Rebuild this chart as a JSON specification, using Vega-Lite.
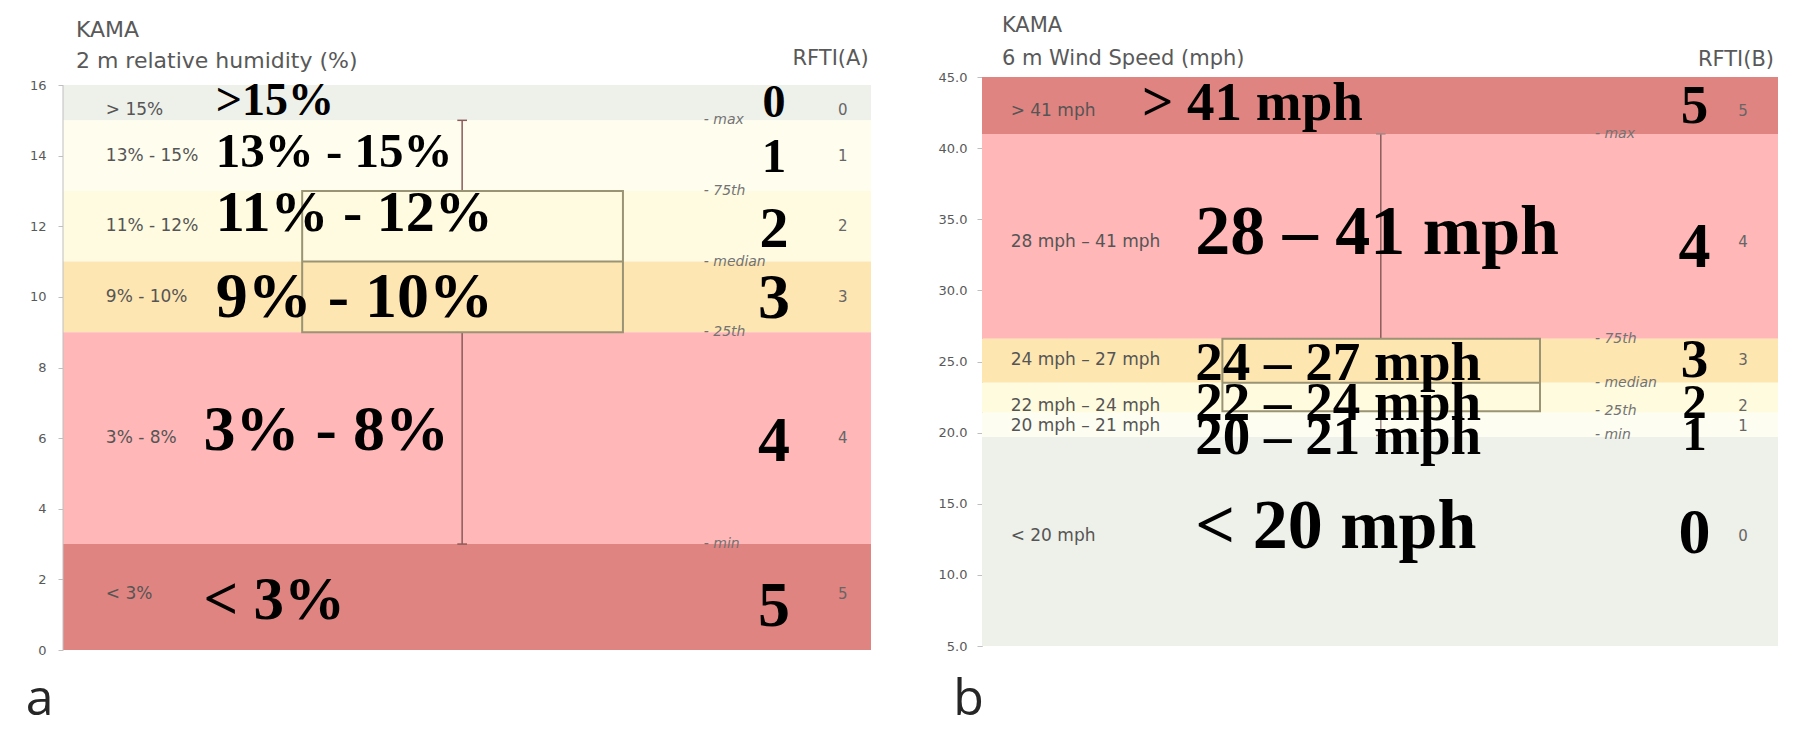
{
  "$schema": "https://vega.github.io/schema/vega-lite/v6.json",
  "background": "white",
  "padding": {"left": 25, "top": 14, "right": 21, "bottom": 8},
  "autosize": {"type": "pad"},
  "config": {"view": {"stroke": null}},
  "spacing": 67,
  "resolve": {"scale": {"x": "independent", "y": "independent", "color": "independent", "size": "independent"}},
  "datasets": {
    "bandsA": [
      {"rfti": 0, "lo": 15, "hi": 16, "label": "> 15%", "at": 15.3},
      {"rfti": 1, "lo": 13, "hi": 15, "label": "13% - 15%", "at": 14.0},
      {"rfti": 2, "lo": 11, "hi": 13, "label": "11% - 12%", "at": 12.0},
      {"rfti": 3, "lo": 9, "hi": 11, "label": "9% - 10%", "at": 10.0},
      {"rfti": 4, "lo": 3, "hi": 9, "label": "3% - 8%", "at": 6.0},
      {"rfti": 5, "lo": 0, "hi": 3, "label": "< 3%", "at": 1.6}
    ],
    "bandsB": [
      {"rfti": 5, "lo": 41, "hi": 45, "label": "> 41 mph", "at": 42.6},
      {"rfti": 4, "lo": 26.6, "hi": 41, "label": "28 mph – 41 mph", "at": 33.4},
      {"rfti": 3, "lo": 23.5, "hi": 26.6, "label": "24 mph – 27 mph", "at": 25.1},
      {"rfti": 2, "lo": 21.4, "hi": 23.5, "label": "22 mph – 24 mph", "at": 21.9},
      {"rfti": 1, "lo": 19.7, "hi": 21.4, "label": "20 mph – 21 mph", "at": 20.5},
      {"rfti": 0, "lo": 5, "hi": 19.7, "label": "< 20 mph", "at": 12.7}
    ],
    "statsA": [
      {"stat": "max", "v": 15, "label": "- max"},
      {"stat": "q3", "v": 13, "label": "- 75th"},
      {"stat": "median", "v": 11, "label": "- median"},
      {"stat": "q1", "v": 9, "label": "- 25th"},
      {"stat": "min", "v": 3, "label": "- min"}
    ],
    "statsB": [
      {"stat": "max", "v": 41, "label": "- max"},
      {"stat": "q3", "v": 26.6, "label": "- 75th"},
      {"stat": "median", "v": 23.5, "label": "- median"},
      {"stat": "q1", "v": 21.5, "label": "- 25th"},
      {"stat": "min", "v": 19.8, "label": "- min"}
    ],
    "overlayA": [
      {"text": ">15%", "y": 15.55, "tier": 1},
      {"text": "13% - 15%", "y": 14.1, "tier": 2},
      {"text": "11% - 12%", "y": 12.35, "tier": 5},
      {"text": "9% - 10%", "y": 9.97, "tier": 7}
    ],
    "overlayA2": [
      {"text": "3% - 8%", "y": 6.2, "tier": 7},
      {"text": "< 3%", "y": 1.38, "tier": 6}
    ],
    "numsA": [
      {"text": "0", "y": 15.5, "tier": 1},
      {"text": "1", "y": 13.96, "tier": 2},
      {"text": "2", "y": 11.9, "tier": 5},
      {"text": "3", "y": 9.94, "tier": 7},
      {"text": "4", "y": 5.9, "tier": 7},
      {"text": "5", "y": 1.23, "tier": 7}
    ],
    "overlayB": [
      {"text": "28 – 41 mph", "y": 34.0, "tier": 9},
      {"text": "24 – 27 mph", "y": 24.87, "tier": 4},
      {"text": "22 – 24 mph", "y": 22.05, "tier": 4},
      {"text": "20 – 21 mph", "y": 19.66, "tier": 4},
      {"text": "< 20 mph", "y": 13.4, "tier": 9}
    ],
    "overlayB1": [
      {"text": "> 41 mph", "y": 43.14, "tier": 4}
    ],
    "numsB": [
      {"text": "5", "y": 42.97, "tier": 4},
      {"text": "4", "y": 33.0, "tier": 7},
      {"text": "3", "y": 25.1, "tier": 4},
      {"text": "2", "y": 22.05, "tier": 2},
      {"text": "1", "y": 19.8, "tier": 2},
      {"text": "0", "y": 12.85, "tier": 7}
    ],
    "headA": [
      {"text": "KAMA", "y": 17.55},
      {"text": "2 m relative humidity (%)", "y": 16.68}
    ],
    "headB": [
      {"text": "KAMA", "y": 48.62},
      {"text": "6 m Wind Speed (mph)", "y": 46.24}
    ],
    "cornerA": [
      {"text": "RFTI(A)", "y": 16.74}
    ],
    "cornerB": [
      {"text": "RFTI(B)", "y": 46.2}
    ],
    "panelA": [
      {"text": "a", "y": -1.42}
    ],
    "panelB": [
      {"text": "b", "y": 1.2}
    ]
  },
  "hconcat": [
    {
      "width": 808,
      "height": 573,
      "layer": [
        {
          "data": {"name": "bandsA"},
          "mark": {"type": "rect"},
          "encoding": {
            "x": {"datum": 0, "type": "quantitative", "scale": {"domain": [0, 100], "nice": false, "zero": false}, "axis": null},
            "x2": {"datum": 100},
            "y": {"field": "lo", "type": "quantitative", "scale": {"domain": [0, 16.227], "nice": false, "zero": false},
                  "axis": {"values": [0, 2, 4, 6, 8, 10, 12, 14, 16], "title": null, "grid": false, "domain": false, "tickColor": "#bfbfbf", "labelColor": "#595959", "labelFontSize": 13, "labelFont": "DejaVu Sans", "tickSize": 5, "labelPadding": 12}},
            "y2": {"field": "hi"},
            "color": {"field": "rfti", "type": "ordinal", "scale": {"domain": [0, 1, 2, 3, 4, 5], "range": ["#eef0ea", "#fefdee", "#fefbe0", "#fde6b2", "#ffb7b7", "#e08481"]}, "legend": null}
          }
        },
        {
          "data": {"name": "panelA"},
          "mark": {"type": "rule", "color": "#bfbfbf", "strokeWidth": 1},
          "encoding": {"x": {"datum": 0}, "y": {"datum": 0}, "y2": {"datum": 16}}
        },
        {
          "data": {"name": "statsA"},
          "transform": [{"pivot": "stat", "value": "v"}],
          "mark": {"type": "rule", "color": "#8b5b5b", "strokeWidth": 1.5},
          "encoding": {"x": {"datum": 49.4}, "y": {"field": "q3", "type": "quantitative"}, "y2": {"field": "max"}}
        },
        {
          "data": {"name": "statsA"},
          "transform": [{"pivot": "stat", "value": "v"}],
          "mark": {"type": "rule", "color": "#8b5b5b", "strokeWidth": 1.5},
          "encoding": {"x": {"datum": 49.4}, "y": {"field": "min", "type": "quantitative"}, "y2": {"field": "q1"}}
        },
        {
          "data": {"name": "statsA"},
          "transform": [{"filter": {"field": "stat", "oneOf": ["max", "min"]}}],
          "mark": {"type": "rule", "color": "#8b5b5b", "strokeWidth": 1.5},
          "encoding": {"x": {"datum": 48.8}, "x2": {"datum": 50.0}, "y": {"field": "v", "type": "quantitative"}}
        },
        {
          "data": {"name": "statsA"},
          "transform": [{"pivot": "stat", "value": "v"}],
          "mark": {"type": "rect", "fill": "transparent", "fillOpacity": 0, "stroke": "#9a9474", "strokeWidth": 2},
          "encoding": {"x": {"datum": 29.6}, "x2": {"datum": 69.3}, "y": {"field": "q1", "type": "quantitative"}, "y2": {"field": "q3"}}
        },
        {
          "data": {"name": "statsA"},
          "transform": [{"pivot": "stat", "value": "v"}],
          "mark": {"type": "rule", "color": "#9a9474", "strokeWidth": 2},
          "encoding": {"x": {"datum": 29.6}, "x2": {"datum": 69.3}, "y": {"field": "median", "type": "quantitative"}}
        },
        {
          "data": {"name": "bandsA"},
          "mark": {"type": "text", "align": "left", "baseline": "middle", "font": "DejaVu Sans", "fontSize": 17, "color": "#555555"},
          "encoding": {"x": {"datum": 5.3}, "y": {"field": "at", "type": "quantitative"}, "text": {"field": "label"}}
        },
        {
          "data": {"name": "bandsA"},
          "mark": {"type": "text", "align": "center", "baseline": "middle", "font": "DejaVu Sans", "fontSize": 15, "color": "#666666"},
          "encoding": {"x": {"datum": 96.5}, "y": {"field": "at", "type": "quantitative"}, "text": {"field": "rfti"}}
        },
        {
          "data": {"name": "statsA"},
          "mark": {"type": "text", "align": "left", "baseline": "middle", "font": "DejaVu Sans", "fontSize": 14, "fontStyle": "italic", "color": "#737373"},
          "encoding": {"x": {"datum": 79.3}, "y": {"field": "v", "type": "quantitative"}, "text": {"field": "label"}}
        },
        {
          "data": {"name": "overlayA"},
          "mark": {"type": "text", "align": "left", "baseline": "middle", "font": "Liberation Serif", "fontWeight": "bold", "color": "#000000"},
          "encoding": {
            "x": {"datum": 18.9},
            "y": {"field": "y", "type": "quantitative"},
            "text": {"field": "text"},
            "size": {"field": "tier", "type": "quantitative", "scale": {"type": "linear", "domain": [1, 9], "range": [46, 70], "zero": false}, "legend": null}
          }
        },
        {
          "data": {"name": "overlayA2"},
          "mark": {"type": "text", "align": "left", "baseline": "middle", "font": "Liberation Serif", "fontWeight": "bold", "color": "#000000"},
          "encoding": {
            "x": {"datum": 17.4},
            "y": {"field": "y", "type": "quantitative"},
            "text": {"field": "text"},
            "size": {"field": "tier", "type": "quantitative", "scale": {"type": "linear", "domain": [1, 9], "range": [46, 70], "zero": false}, "legend": null}
          }
        },
        {
          "data": {"name": "numsA"},
          "mark": {"type": "text", "align": "center", "baseline": "middle", "font": "Liberation Serif", "fontWeight": "bold", "color": "#000000"},
          "encoding": {
            "x": {"datum": 88},
            "y": {"field": "y", "type": "quantitative"},
            "text": {"field": "text"},
            "size": {"field": "tier", "type": "quantitative", "scale": {"type": "linear", "domain": [1, 9], "range": [46, 70], "zero": false}, "legend": null}
          }
        },
        {
          "data": {"name": "headA"},
          "mark": {"type": "text", "align": "left", "baseline": "middle", "font": "DejaVu Sans", "fontSize": 22, "color": "#595959"},
          "encoding": {"x": {"datum": 1.6}, "y": {"field": "y", "type": "quantitative"}, "text": {"field": "text"}}
        },
        {
          "data": {"name": "cornerA"},
          "mark": {"type": "text", "align": "right", "baseline": "middle", "font": "DejaVu Sans", "fontSize": 21, "color": "#595959"},
          "encoding": {"x": {"datum": 99.7}, "y": {"field": "y", "type": "quantitative"}, "text": {"field": "text"}}
        },
        {
          "data": {"name": "panelA"},
          "mark": {"type": "text", "align": "left", "baseline": "middle", "font": "Open Sans", "fontSize": 50, "color": "#262626"},
          "encoding": {"x": {"datum": -4.6}, "y": {"field": "y", "type": "quantitative"}, "text": {"field": "text"}}
        }
      ]
    },
    {
      "width": 796,
      "height": 569,
      "layer": [
        {
          "data": {"name": "bandsB"},
          "mark": {"type": "rect"},
          "encoding": {
            "x": {"datum": 0, "type": "quantitative", "scale": {"domain": [0, 100], "nice": false, "zero": false}, "axis": null},
            "x2": {"datum": 100},
            "y": {"field": "lo", "type": "quantitative", "scale": {"domain": [5, 45], "nice": false, "zero": false},
                  "axis": {"values": [5, 10, 15, 20, 25, 30, 35, 40, 45], "format": ".1f", "title": null, "grid": false, "domainColor": "#bfbfbf", "tickColor": "#bfbfbf", "labelColor": "#595959", "labelFontSize": 13, "labelFont": "DejaVu Sans", "tickSize": 5, "labelPadding": 10}},
            "y2": {"field": "hi"},
            "color": {"field": "rfti", "type": "ordinal", "scale": {"domain": [0, 1, 2, 3, 4, 5], "range": ["#eef0ea", "#fdfdf2", "#fefbdf", "#fde6b0", "#ffb7b7", "#e08481"]}, "legend": null}
          }
        },
        {
          "data": {"name": "statsB"},
          "transform": [{"pivot": "stat", "value": "v"}],
          "mark": {"type": "rule", "color": "#8b5b5b", "strokeWidth": 1.5},
          "encoding": {"x": {"datum": 50.1}, "y": {"field": "q3", "type": "quantitative"}, "y2": {"field": "max"}}
        },
        {
          "data": {"name": "statsB"},
          "transform": [{"pivot": "stat", "value": "v"}],
          "mark": {"type": "rule", "color": "#a08a8a", "strokeWidth": 1.5},
          "encoding": {"x": {"datum": 50.1}, "y": {"field": "min", "type": "quantitative"}, "y2": {"field": "q1"}}
        },
        {
          "data": {"name": "statsB"},
          "transform": [{"filter": {"field": "stat", "oneOf": ["max", "min"]}}],
          "mark": {"type": "rule", "color": "#a08a8a", "strokeWidth": 1.5},
          "encoding": {"x": {"datum": 49.5}, "x2": {"datum": 50.7}, "y": {"field": "v", "type": "quantitative"}}
        },
        {
          "data": {"name": "statsB"},
          "transform": [{"pivot": "stat", "value": "v"}],
          "mark": {"type": "rect", "fill": "transparent", "fillOpacity": 0, "stroke": "#9a9474", "strokeWidth": 2},
          "encoding": {"x": {"datum": 30.2}, "x2": {"datum": 70.1}, "y": {"field": "q1", "type": "quantitative"}, "y2": {"field": "q3"}}
        },
        {
          "data": {"name": "statsB"},
          "transform": [{"pivot": "stat", "value": "v"}],
          "mark": {"type": "rule", "color": "#9a9474", "strokeWidth": 2},
          "encoding": {"x": {"datum": 30.2}, "x2": {"datum": 70.1}, "y": {"field": "median", "type": "quantitative"}}
        },
        {
          "data": {"name": "bandsB"},
          "mark": {"type": "text", "align": "left", "baseline": "middle", "font": "DejaVu Sans", "fontSize": 17, "color": "#555555"},
          "encoding": {"x": {"datum": 3.6}, "y": {"field": "at", "type": "quantitative"}, "text": {"field": "label"}}
        },
        {
          "data": {"name": "bandsB"},
          "mark": {"type": "text", "align": "center", "baseline": "middle", "font": "DejaVu Sans", "fontSize": 15, "color": "#666666"},
          "encoding": {"x": {"datum": 95.6}, "y": {"field": "at", "type": "quantitative"}, "text": {"field": "rfti"}}
        },
        {
          "data": {"name": "statsB"},
          "mark": {"type": "text", "align": "left", "baseline": "middle", "font": "DejaVu Sans", "fontSize": 14, "fontStyle": "italic", "color": "#737373"},
          "encoding": {"x": {"datum": 77.0}, "y": {"field": "v", "type": "quantitative"}, "text": {"field": "label"}}
        },
        {
          "data": {"name": "overlayB"},
          "mark": {"type": "text", "align": "left", "baseline": "middle", "font": "Liberation Serif", "fontWeight": "bold", "color": "#000000"},
          "encoding": {
            "x": {"datum": 26.8},
            "y": {"field": "y", "type": "quantitative"},
            "text": {"field": "text"},
            "size": {"field": "tier", "type": "quantitative", "scale": {"type": "linear", "domain": [1, 9], "range": [46, 70], "zero": false}, "legend": null}
          }
        },
        {
          "data": {"name": "overlayB1"},
          "mark": {"type": "text", "align": "left", "baseline": "middle", "font": "Liberation Serif", "fontWeight": "bold", "color": "#000000"},
          "encoding": {
            "x": {"datum": 20.1},
            "y": {"field": "y", "type": "quantitative"},
            "text": {"field": "text"},
            "size": {"field": "tier", "type": "quantitative", "scale": {"type": "linear", "domain": [1, 9], "range": [46, 70], "zero": false}, "legend": null}
          }
        },
        {
          "data": {"name": "numsB"},
          "mark": {"type": "text", "align": "center", "baseline": "middle", "font": "Liberation Serif", "fontWeight": "bold", "color": "#000000"},
          "encoding": {
            "x": {"datum": 89.5},
            "y": {"field": "y", "type": "quantitative"},
            "text": {"field": "text"},
            "size": {"field": "tier", "type": "quantitative", "scale": {"type": "linear", "domain": [1, 9], "range": [46, 70], "zero": false}, "legend": null}
          }
        },
        {
          "data": {"name": "headB"},
          "mark": {"type": "text", "align": "left", "baseline": "middle", "font": "DejaVu Sans", "fontSize": 21, "color": "#595959"},
          "encoding": {"x": {"datum": 2.5}, "y": {"field": "y", "type": "quantitative"}, "text": {"field": "text"}}
        },
        {
          "data": {"name": "cornerB"},
          "mark": {"type": "text", "align": "right", "baseline": "middle", "font": "DejaVu Sans", "fontSize": 21, "color": "#595959"},
          "encoding": {"x": {"datum": 99.5}, "y": {"field": "y", "type": "quantitative"}, "text": {"field": "text"}}
        },
        {
          "data": {"name": "panelB"},
          "mark": {"type": "text", "align": "left", "baseline": "middle", "font": "Open Sans", "fontSize": 50, "color": "#262626"},
          "encoding": {"x": {"datum": -3.6}, "y": {"field": "y", "type": "quantitative"}, "text": {"field": "text"}}
        }
      ]
    }
  ]
}
